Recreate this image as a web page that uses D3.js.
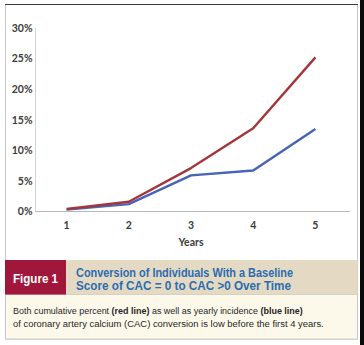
<!DOCTYPE html>
<html>
<head>
<meta charset="utf-8">
<script src="https://cdn.jsdelivr.net/npm/d3@7"></script>
<style>
  html, body { margin: 0; padding: 0; background: #ffffff; }
  svg { display: block; }
</style>
</head>
<body>
<svg id="chart" width="364" height="345"></svg>
<script>
// Years since baseline scan
const years = ["1", "2", "3", "4", "5"];
// Cumulative percent converting to CAC > 0 (red line)
const cumulativePct = [0.004, 0.016, 0.071, 0.136, 0.252];
// Yearly incidence of conversion (blue line)
const yearlyIncidence = [0.003, 0.012, 0.059, 0.067, 0.135];
// Y-axis tick values
const yTicks = [0, 0.05, 0.10, 0.15, 0.20, 0.25, 0.30];

const figureLabel = "Figure 1";
const titleLines = [
  "Conversion of Individuals With a Baseline",
  "Score of CAC = 0 to CAC >0 Over Time"
];
const captionLines = [
  [["Both cumulative percent ", false], ["(red line)", true], [" as well as yearly incidence ", false], ["(blue line)", true]],
  [["of coronary artery calcium (CAC) conversion is low before the first 4 years.", false]]
];

const svg = d3.select("#chart");
const tickFont = "Lato, 'Open Sans', sans-serif";
const capFont = "'Liberation Sans', Arial, sans-serif";

// Right-hand dark edge strip
svg.append("rect").attr("x", 360).attr("y", 0).attr("width", 4).attr("height", 345).attr("fill", "#0a0a0a");

// Outer panel
svg.append("rect")
  .attr("x", 5.5).attr("y", 4.5).attr("width", 352).attr("height", 334.5)
  .attr("fill", "#ffffff").attr("stroke", "#c8c8c8").attr("stroke-width", 1);
svg.append("line").attr("x1", 5).attr("x2", 358).attr("y1", 4.5).attr("y2", 4.5)
  .attr("stroke", "#3a3a3a").attr("stroke-width", 1);

// Scales
const x = d3.scaleBand().domain(years).range([35.5, 346.5]);
const y = d3.scaleLinear().domain([0, 0.30]).range([211.5, 28]);
const cx = d => x(d) + x.bandwidth() / 2;

// Axis lines
svg.append("line").attr("x1", 35.5).attr("x2", 35.5).attr("y1", y(0.30)).attr("y2", y(0))
  .attr("stroke", "#d4d4d4").attr("stroke-width", 1);
svg.append("line").attr("x1", 35).attr("x2", 350).attr("y1", y(0)).attr("y2", y(0))
  .attr("stroke", "#b8b8b8").attr("stroke-width", 1);

// Y axis
const yAxis = svg.append("g").attr("transform", "translate(35.5,0)")
  .call(d3.axisLeft(y).tickValues(yTicks).tickFormat(d3.format(".0%")).tickSize(0).tickPadding(3));
yAxis.select(".domain").remove();
yAxis.selectAll("text").attr("font-family", tickFont).attr("font-weight", "bold")
  .attr("font-size", 10.5).attr("fill", "#3c3c3c");

// X axis
const xAxis = svg.append("g").attr("transform", `translate(0,${y(0)})`)
  .call(d3.axisBottom(x).tickSize(0).tickPadding(10));
xAxis.select(".domain").remove();
xAxis.selectAll("text").attr("font-family", tickFont).attr("font-weight", "bold")
  .attr("font-size", 10.5).attr("fill", "#3c3c3c");

svg.append("text").attr("x", 191).attr("y", 246)
  .attr("text-anchor", "middle").attr("font-family", tickFont).attr("font-weight", "bold")
  .attr("font-size", 10.5).attr("fill", "#3c3c3c").text("Years");

// Lines
const line = d3.line().x((d, i) => cx(years[i])).y(d => y(d));
svg.append("path").datum(yearlyIncidence).attr("d", line)
  .attr("fill", "none").attr("stroke", "#4863b8").attr("stroke-width", 2.4).attr("stroke-linejoin", "round");
svg.append("path").datum(cumulativePct).attr("d", line)
  .attr("fill", "none").attr("stroke", "#a3363a").attr("stroke-width", 2.4).attr("stroke-linejoin", "round");

// Figure header band
svg.append("rect").attr("x", 66).attr("y", 260).attr("width", 291.5).attr("height", 35).attr("fill", "#e4dac3");
svg.append("rect").attr("x", 5).attr("y", 260).attr("width", 61).attr("height", 35).attr("fill", "#a1173b");

// Caption box
svg.append("rect").attr("x", 5.5).attr("y", 295).attr("width", 352).attr("height", 44)
  .attr("fill", "#fdf9ea").attr("stroke", "#c8c8c8").attr("stroke-width", 1);
svg.append("rect").attr("x", 6).attr("y", 295).attr("width", 351).attr("height", 1).attr("fill", "#fdf9ea");

function fitWidth(sel, target) {
  const w = sel.node().getComputedTextLength();
  if (w > 0) sel.attr("textLength", target).attr("lengthAdjust", "spacingAndGlyphs");
}

const fig = svg.append("text").attr("x", 13).attr("y", 282.5)
  .attr("font-family", capFont).attr("font-weight", "bold").attr("font-size", 12.5)
  .attr("fill", "#ffffff").text(figureLabel);
fitWidth(fig, 45);

const titleWidths = [217, 215];
titleLines.forEach((t, i) => {
  const el = svg.append("text").attr("x", 76).attr("y", 276.5 + i * 13.5)
    .attr("font-family", capFont).attr("font-weight", "bold").attr("font-size", 12.5)
    .attr("fill", "#2c6cb0").text(t);
  fitWidth(el, titleWidths[i]);
});

// Caption lines, each scaled horizontally to its measured span
const capWidths = [290, 311];
captionLines.forEach((parts, i) => {
  const g = svg.append("g");
  const el = g.append("text").attr("x", 0).attr("y", 0)
    .attr("font-family", capFont).attr("font-size", 9.3).attr("fill", "#262626");
  parts.forEach(([s, b]) => el.append("tspan").attr("font-weight", b ? "bold" : "normal").text(s));
  const w = el.node().getComputedTextLength();
  const k = capWidths[i] / w;
  g.attr("transform", `translate(13,${313.5 + i * 13.5}) scale(${k},1)`);
});
</script>
</body>
</html>
